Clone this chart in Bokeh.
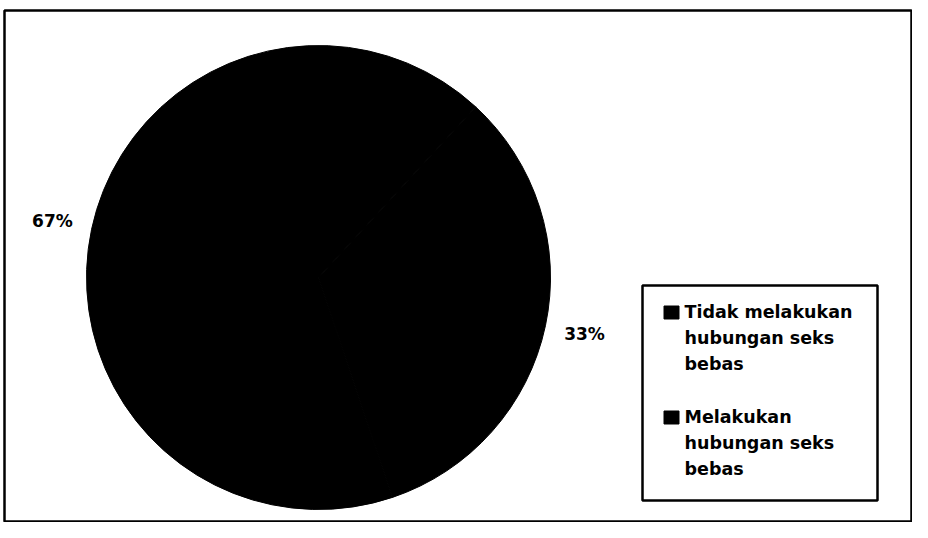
import math
import pandas as pd
from bokeh.plotting import figure
from bokeh.models import Range1d, ColumnDataSource
from bokeh.core.properties import value
from bokeh.embed import file_html
from bokeh.resources import INLINE

# ---- data ----
categories = ["Tidak melakukan\nhubungan seks\nbebas", "Melakukan\nhubungan seks\nbebas"]
values = [67, 33]
pct_labels = ["67%", "33%"]
colors = ["#000000", "#000000"]

W, H = 912, 522
p = figure(width=W, height=H, output_backend="svg", toolbar_location=None,
           x_range=Range1d(0, W), y_range=Range1d(0, H), min_border=0)
p.axis.visible = False
p.grid.visible = False
p.outline_line_color = None
p.background_fill_color = "white"

# outer frame
p.quad(left=[4], right=[W - 1], bottom=[1], top=[H - 10], fill_color=None,
       line_color="black", line_width=2.5)

# pie geometry (pixel units)
cx, cy, r = 318, H - 277, 232
start_offset = math.radians(47.4)

df = pd.DataFrame({"cat": categories, "val": values, "lab": pct_labels, "color": colors})
df["frac"] = df["val"] / df["val"].sum()
df["end"] = start_offset + df["frac"].cumsum() * 2 * math.pi
df["start"] = df["end"] - df["frac"] * 2 * math.pi
df["mid"] = (df["start"] + df["end"]) / 2
lr = 272
df["lx"] = cx + lr * df["mid"].apply(math.cos)
df["ly"] = cy + lr * df["mid"].apply(math.sin)

src = ColumnDataSource(df)
p.wedge(x=cx, y=cy, radius=r, start_angle="start", end_angle="end",
        fill_color="color", line_color="color", source=src)
p.text(x="lx", y="ly", text="lab", source=src, text_font=value("DejaVu Sans"),
       text_font_style="bold", text_font_size="17px", text_align="center",
       text_baseline="middle", text_color="black")

# legend (manual)
p.quad(left=[642], right=[877], bottom=[H - 500], top=[H - 285], fill_color="white",
       line_color="black", line_width=2.5)
step = 105
df["sy"] = (H - 312) - step * df.index
df["sx"] = 671
df["tx"] = 684
df["ty"] = df["sy"] + 11
src2 = ColumnDataSource(df)
p.rect(x="sx", y="sy", width=15, height=13, fill_color="color", line_color="color", source=src2)
p.text(x="tx", y="ty", text="cat", source=src2, text_font=value("DejaVu Sans"),
       text_font_style="bold", text_font_size="17.5px", text_align="left",
       text_baseline="top", text_line_height=1.3, text_color="black")

open("out.html", "w").write(file_html(p, INLINE))
